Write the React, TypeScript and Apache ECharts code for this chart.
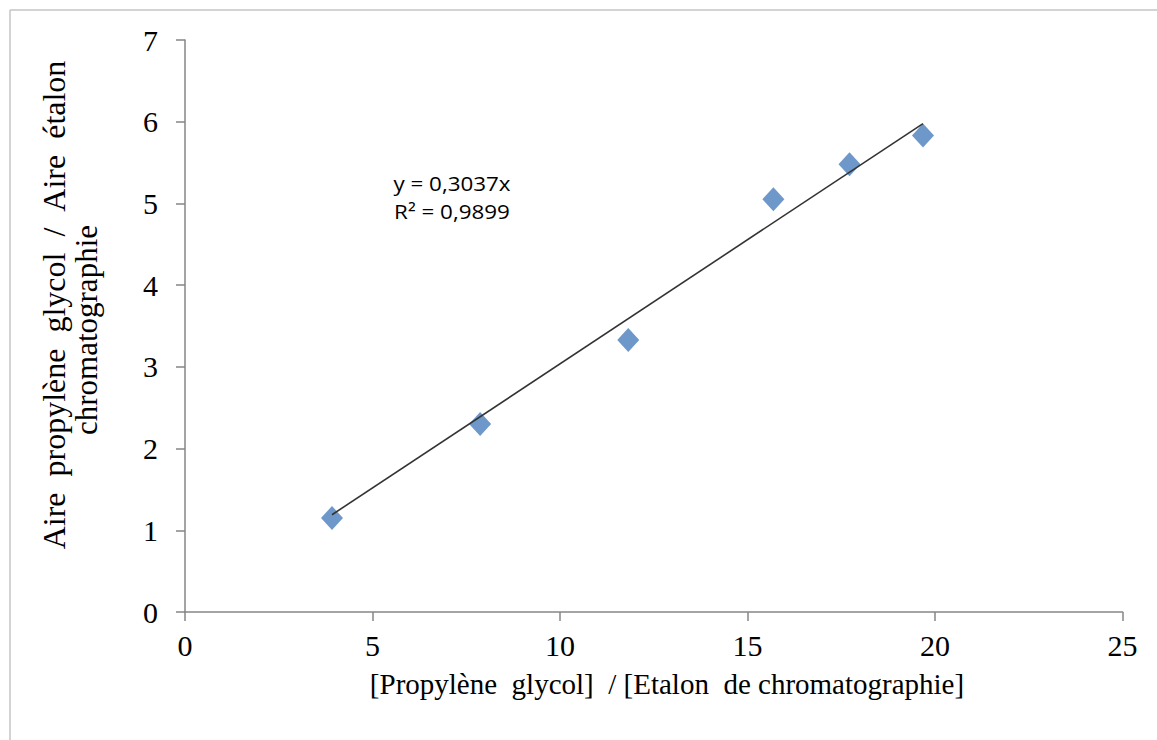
import React, { useEffect, useRef } from "react";
import * as echarts from "echarts";

const xValues = [3.92, 7.87, 11.82, 15.69, 17.72, 19.68];
const yValues = [1.15, 2.3, 3.33, 5.05, 5.48, 5.83];
const slope = 0.3037;
const equationText = "y = 0,3037x";
const r2Text = "R² = 0,9899";
const xAxisName = "[Propylène\u00a0\u00a0glycol]\u00a0\u00a0/ [Etalon\u00a0\u00a0de chromatographie]";
const yAxisNameLine1 =
  "Aire\u00a0\u00a0propylène\u00a0\u00a0glycol\u00a0\u00a0/\u00a0\u00a0Aire\u00a0\u00a0étalon";
const yAxisNameLine2 = "chromatographie";

export default function App() {
  const ref = useRef<HTMLDivElement>(null);
  useEffect(() => {
    if (!ref.current) return;
    const chart = echarts.init(ref.current, null, { renderer: "svg" });
    const points = xValues.map((x, i) => [x, yValues[i]]);
    const xmin = Math.min(...xValues);
    const xmax = Math.max(...xValues);
    const trend = [
      [xmin, slope * xmin],
      [xmax, slope * xmax],
    ];
    const serif = "'Liberation Serif', 'Times New Roman', serif";
    const sans = "'Open Sans', 'Noto Sans', sans-serif";
    chart.setOption({
      animation: false,
      backgroundColor: "#ffffff",
      grid: { left: 185, right: 34.5, top: 40, bottom: 128, containLabel: false },
      xAxis: {
        type: "value",
        min: 0,
        max: 25,
        interval: 5,
        splitLine: { show: false },
        axisLine: { lineStyle: { color: "#868686", width: 1.5 } },
        axisTick: { show: true, inside: false, length: 9, lineStyle: { color: "#868686", width: 1.5 } },
        axisLabel: { color: "#000", fontFamily: serif, fontSize: 30, margin: 18 },
      },
      yAxis: {
        type: "value",
        min: 0,
        max: 7,
        interval: 1,
        splitLine: { show: false },
        axisLine: { show: true, lineStyle: { color: "#868686", width: 1.5 } },
        axisTick: { show: true, inside: false, length: 9, lineStyle: { color: "#868686", width: 1.5 } },
        axisLabel: { color: "#000", fontFamily: serif, fontSize: 30, margin: 27 },
      },
      series: [
        {
          type: "line",
          data: trend,
          symbol: "none",
          lineStyle: { color: "#333333", width: 1.6 },
          z: 3,
        },
        {
          type: "scatter",
          data: points,
          symbol: "diamond",
          symbolSize: [22, 24],
          itemStyle: { color: "#4a7ebb" },
          z: 2,
        },
      ],
      graphic: [
        { type: "line", shape: { x1: 10, y1: 10, x2: 10, y2: 740 }, style: { stroke: "#c4c4c4", lineWidth: 1.5 } },
        { type: "line", shape: { x1: 10, y1: 10, x2: 1157, y2: 10 }, style: { stroke: "#c4c4c4", lineWidth: 1.5 } },
        {
          type: "text",
          x: 667,
          y: 684,
          style: { text: xAxisName, font: "29px " + serif, fill: "#000", textAlign: "center", textVerticalAlign: "middle" },
        },
        {
          type: "text",
          x: 54,
          y: 305,
          rotation: Math.PI / 2,
          style: { text: yAxisNameLine1, font: "32px " + serif, fill: "#000", textAlign: "center", textVerticalAlign: "middle" },
        },
        {
          type: "text",
          x: 86,
          y: 330,
          rotation: Math.PI / 2,
          style: { text: yAxisNameLine2, font: "31px " + serif, fill: "#000", textAlign: "center", textVerticalAlign: "middle" },
        },
        {
          type: "text",
          x: 452,
          y: 183,
          scaleX: 1.12,
          style: { text: equationText, font: "20px " + sans, fill: "#000", textAlign: "center", textVerticalAlign: "middle" },
        },
        {
          type: "text",
          x: 452,
          y: 211,
          scaleX: 1.12,
          style: { text: r2Text, font: "20px " + sans, fill: "#000", textAlign: "center", textVerticalAlign: "middle" },
        },
      ],
    });
    return () => chart.dispose();
  }, []);
  return (
    <div
      ref={ref}
      style={{ position: "absolute", left: 0, top: 0, width: 1157, height: 740 }}
    />
  );
}
